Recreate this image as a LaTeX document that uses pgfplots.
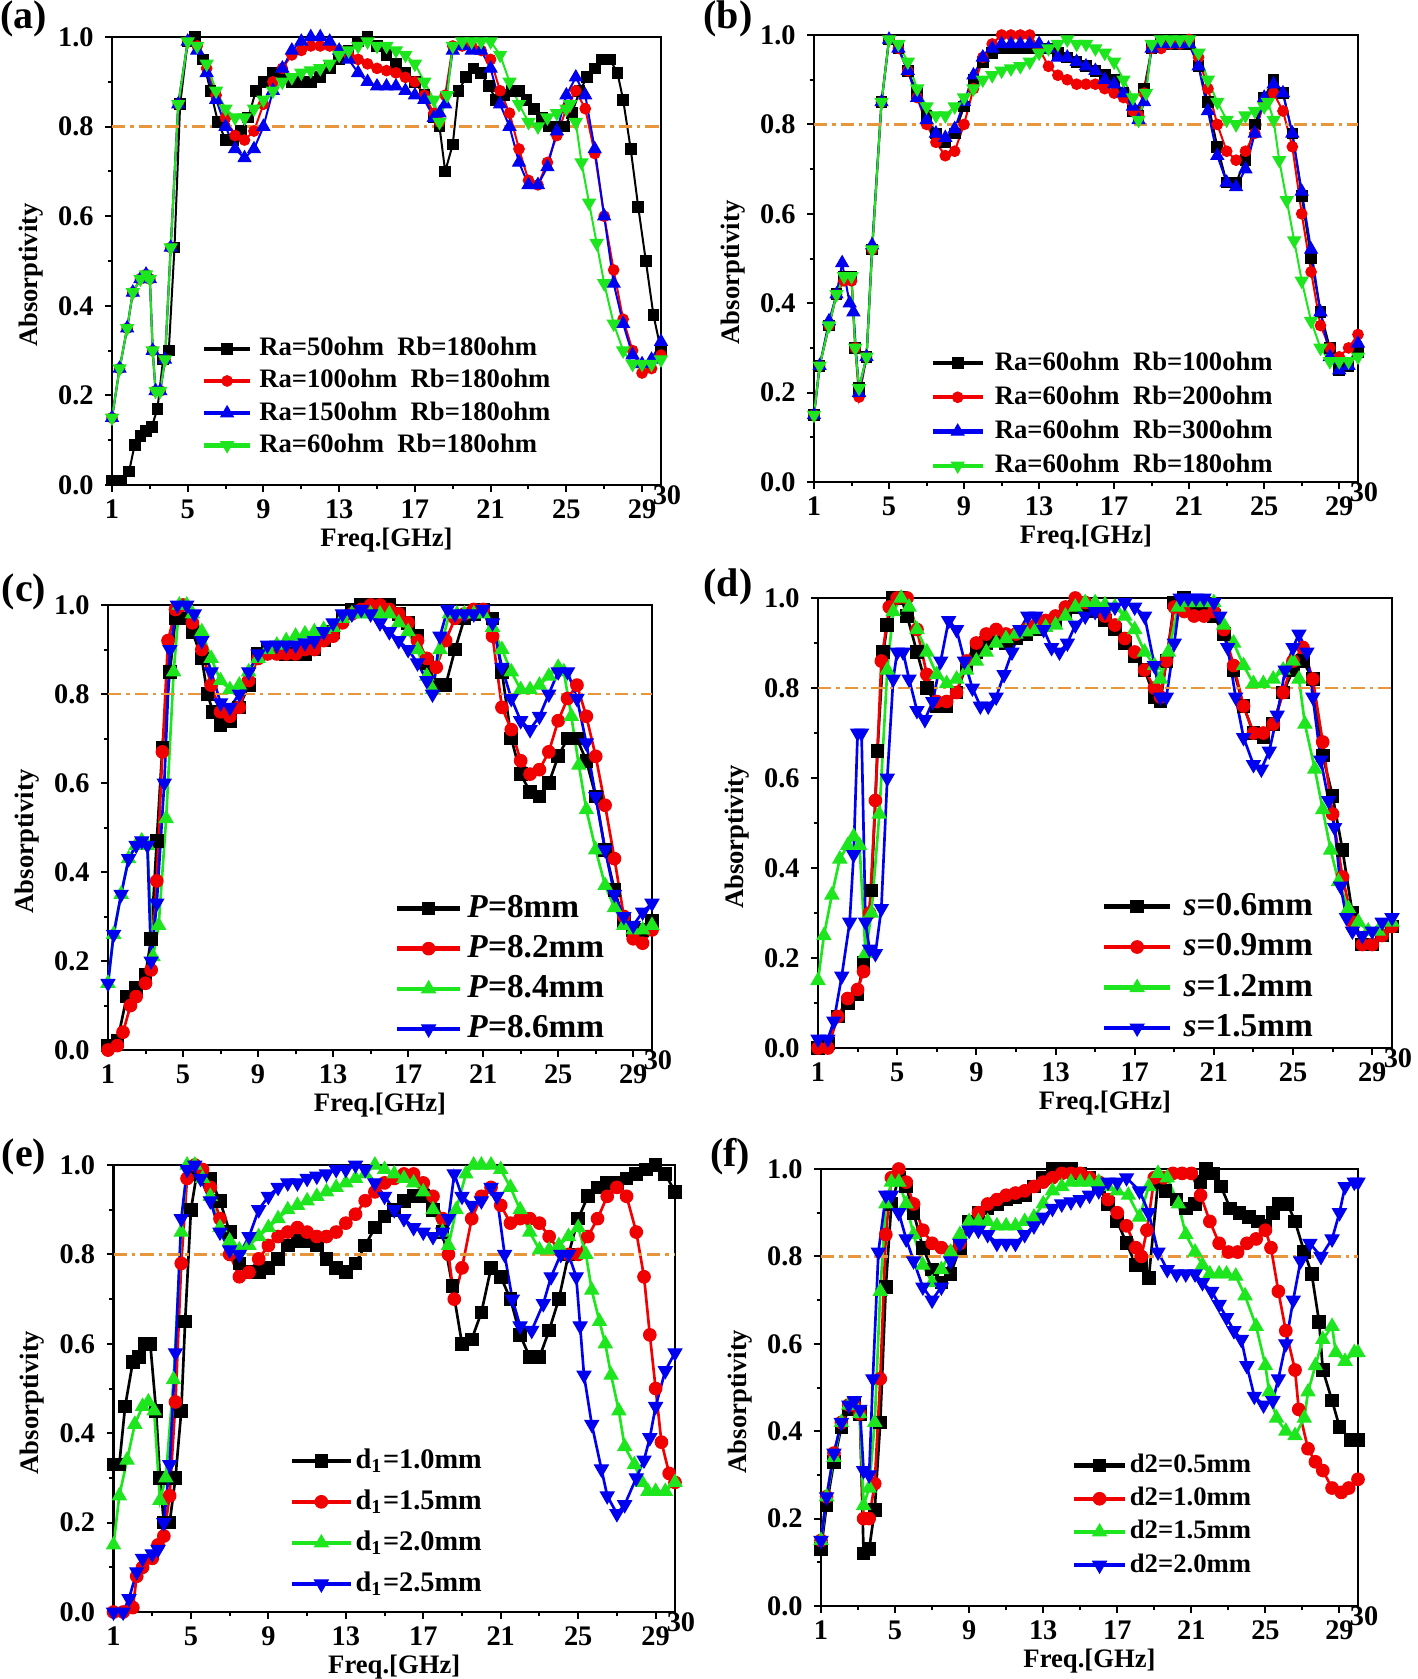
\documentclass[border=0pt]{standalone}
\usepackage{fontspec}
\setmainfont{Liberation Serif}
\usepackage{pgfplots}
\pgfplotsset{compat=1.18}
\definecolor{cgreen}{RGB}{30,230,30}
\definecolor{cblue}{RGB}{0,0,240}
\definecolor{cred}{RGB}{240,0,0}
\definecolor{corange}{RGB}{232,150,60}
\pgfplotsset{
  panel/.style={scale only axis, anchor=south west,
    xmin=1,xmax=30,ymin=0,ymax=1,
    axis line style={line width=0.8pt},
    xtick={1,5,...,29}, minor xtick={3,7,...,27},
    ytick={0,0.2,0.4,0.6,0.8,1}, minor ytick={0.1,0.3,0.5,0.7,0.9},
    tick align=outside, tick pos=left,
    major tick length=2pt, minor tick length=1.3pt,
    every tick/.style={line width=0.6pt,black},
    yticklabel style={/pgf/number format/.cd,fixed,fixed zerofill,precision=1},
    xticklabel style={yshift=1pt},
    /pgf/number format/assume math mode=true,
    tick label style={font=\fontsize{8.5}{10}\selectfont\bfseries},
    xlabel={Freq.[GHz]}, ylabel={Absorptivity},
    label style={font=\fontsize{8}{9}\selectfont\bfseries},
    xlabel style={at={([yshift=-16.6pt]axis description cs:0.5,0)},anchor=center},
    ylabel style={at={([xshift=-24.3pt,yshift=-4.2pt]axis description cs:0,0.5)},anchor=center},
    legend cell align=left,
    every axis plot/.append style={line width=0.6pt},
    after end axis/.code={\node[font=\fontsize{8.5}{10}\selectfont\bfseries] at ([xshift=1.8pt,yshift=-3pt]rel axis cs:1,0) {30};},
  },
  leg/.style n args={5}{legend style={draw=none, fill=none, inner sep=0pt,
     at={(axis description cs:#1,#2)}, anchor=north west,
     row sep=#4, column sep=#5,
     font=\fontsize{#3}{#3}\selectfont\bfseries,
     nodes={inner sep=0pt, text height=0.72*#3pt, text depth=0.2*#3pt}}},
  limg/.style={legend image code/.code={\draw[mark repeat=2,mark phase=2,##1,line width=1.3pt] plot coordinates {(0pt,0pt) (#1/2,0pt) (#1,0pt)};}},
  sq/.style={black, mark=square*, mark size=#1, mark options={solid,line width=0.3pt}},
  ci/.style={cred, mark=*, mark size=#1, mark options={solid,line width=0.3pt}},
  tu/.style 2 args={#1, mark=triangle*, mark size=#2, mark options={solid,line width=0.3pt}},
  td/.style 2 args={#1, mark=triangle*, mark size=#2, mark options={solid,rotate=180,line width=0.3pt}},
  ref/.style={corange, line width=0.8pt, dash pattern=on 4pt off 1.5pt on 1pt off 1.5pt, forget plot},
}
\begin{document}
\begin{tikzpicture}
\path[use as bounding box] (0,0) rectangle (425.4pt,-503.7pt);
\node[font=\fontsize{12}{14}\selectfont\bfseries] at (7.2pt,-5.7pt) {(a)};
\node[font=\fontsize{12}{14}\selectfont\bfseries] at (218.4pt,-5.7pt) {(b)};
\node[font=\fontsize{12}{14}\selectfont\bfseries] at (7.2pt,-177.6pt) {(c)};
\node[font=\fontsize{12}{14}\selectfont\bfseries] at (218.4pt,-176.1pt) {(d)};
\node[font=\fontsize{12}{14}\selectfont\bfseries] at (7.2pt,-347.1pt) {(e)};
\node[font=\fontsize{12}{14}\selectfont\bfseries] at (219pt,-347.1pt) {(f)};

% ---------------- (a)
\begin{axis}[panel, at={(33.6pt,-145.5pt)}, width=164.7pt, height=134.4pt,
  leg={0.162}{0.333}{8}{2.3pt}{2pt}, limg=14pt]
\addplot[sq=1.6pt] coordinates {(1,0.01)(1.5,0.01)(1.9,0.03)(2.2,0.09)(2.5,0.11)(2.8,0.12)(3.1,0.13)(3.4,0.17)(3.7,0.28)(4.0,0.3)(4.3,0.53)(4.6,0.85)(5.0,0.99)(5.4,1.0)(5.8,0.95)(6.2,0.88)(6.6,0.81)(7.0,0.77)(7.4,0.77)(7.8,0.79)(8.2,0.82)(8.6,0.88)(9.0,0.9)(9.5,0.92)(10,0.92)(10.5,0.9)(11,0.9)(11.5,0.9)(12,0.91)(12.5,0.93)(13,0.95)(13.5,0.97)(14,0.99)(14.5,1.0)(15,0.98)(15.5,0.96)(16,0.94)(16.5,0.92)(17,0.9)(17.5,0.87)(18,0.82)(18.3,0.8)(18.6,0.7)(19,0.76)(19.3,0.88)(19.7,0.91)(20.1,0.93)(20.5,0.92)(20.9,0.89)(21.3,0.86)(21.7,0.87)(22.1,0.88)(22.5,0.88)(22.9,0.86)(23.3,0.84)(23.7,0.82)(24.1,0.8)(24.5,0.8)(24.9,0.8)(25.3,0.83)(25.7,0.88)(26.1,0.91)(26.5,0.93)(26.9,0.95)(27.3,0.95)(27.7,0.92)(28.0,0.86)(28.4,0.75)(28.8,0.62)(29.2,0.5)(29.6,0.38)(30,0.3)};
\addlegendentry{Ra=50ohm\ \ Rb=180ohm}
\addplot[ci=1.6pt] coordinates {(1,0.15)(1.4,0.26)(1.8,0.35)(2.1,0.43)(2.5,0.46)(2.8,0.47)(3.0,0.46)(3.15,0.3)(3.3,0.21)(3.55,0.21)(3.8,0.28)(4.1,0.53)(4.5,0.85)(5.0,0.99)(5.5,0.98)(6,0.93)(6.5,0.87)(7,0.82)(7.5,0.78)(8,0.77)(8.5,0.79)(9,0.85)(9.5,0.9)(10,0.93)(10.5,0.96)(11,0.97)(11.5,0.98)(12,0.98)(12.5,0.98)(13,0.97)(13.5,0.96)(14,0.95)(14.5,0.94)(15,0.93)(15.5,0.925)(16,0.92)(16.5,0.91)(17,0.9)(17.5,0.87)(18,0.83)(18.3,0.81)(18.6,0.87)(19,0.98)(19.5,0.98)(20,0.98)(20.5,0.97)(21,0.95)(21.5,0.88)(22,0.83)(22.5,0.75)(23,0.68)(23.5,0.67)(24,0.72)(24.5,0.78)(25,0.84)(25.5,0.88)(26,0.84)(26.5,0.74)(27,0.6)(27.5,0.48)(28,0.37)(28.5,0.3)(29,0.25)(29.5,0.26)(30,0.29)};
\addlegendentry{Ra=100ohm\ \ Rb=180ohm}
\addplot[tu={cblue}{2.2pt}] coordinates {(1,0.15)(1.4,0.26)(1.8,0.35)(2.1,0.43)(2.5,0.46)(2.8,0.47)(3.0,0.46)(3.15,0.3)(3.3,0.21)(3.55,0.21)(3.8,0.28)(4.1,0.53)(4.5,0.85)(5.0,0.99)(5.5,0.97)(6,0.92)(6.5,0.86)(7,0.8)(7.5,0.75)(8,0.73)(8.5,0.75)(9,0.8)(9.5,0.88)(10,0.93)(10.5,0.97)(11,0.99)(11.5,1.0)(12,1.0)(12.5,0.99)(13,0.97)(13.5,0.95)(14,0.92)(14.5,0.9)(15,0.89)(15.5,0.89)(16,0.89)(16.5,0.88)(17,0.87)(17.5,0.86)(18,0.82)(18.3,0.83)(18.6,0.85)(19,0.97)(19.5,0.98)(20,0.97)(20.5,0.97)(21,0.93)(21.5,0.85)(22,0.8)(22.5,0.72)(23,0.67)(23.5,0.67)(24,0.71)(24.5,0.79)(25,0.87)(25.5,0.91)(26,0.87)(26.5,0.75)(27,0.6)(27.5,0.45)(28,0.36)(28.5,0.29)(29,0.27)(29.5,0.28)(30,0.32)};
\addlegendentry{Ra=150ohm\ \ Rb=180ohm}
\addplot[td={cgreen}{2.2pt}] coordinates {(1,0.15)(1.4,0.26)(1.8,0.35)(2.1,0.43)(2.5,0.46)(2.8,0.47)(3.0,0.46)(3.15,0.3)(3.3,0.21)(3.55,0.21)(3.8,0.28)(4.1,0.53)(4.5,0.85)(5.0,0.99)(5.5,0.98)(6,0.94)(6.5,0.88)(7,0.84)(7.5,0.82)(8,0.82)(8.5,0.84)(9,0.86)(9.5,0.88)(10,0.9)(10.5,0.91)(11,0.92)(11.5,0.925)(12,0.93)(12.5,0.94)(13,0.96)(13.5,0.97)(14,0.98)(14.5,0.99)(15,0.98)(15.5,0.98)(16,0.97)(16.5,0.96)(17,0.94)(17.5,0.9)(18,0.86)(18.3,0.81)(18.7,0.87)(19,0.98)(19.5,0.99)(20,0.99)(20.5,0.99)(21,0.99)(21.5,0.96)(22,0.9)(22.5,0.85)(23,0.81)(23.5,0.8)(24,0.82)(24.5,0.83)(25,0.84)(25.2,0.85)(25.5,0.81)(25.8,0.72)(26.2,0.63)(26.6,0.54)(27,0.45)(27.5,0.36)(28,0.3)(28.5,0.27)(29,0.27)(29.5,0.27)(30,0.28)};
\addlegendentry{Ra=60ohm\ \ Rb=180ohm}
\addplot[ref] coordinates {(1,0.8)(30,0.8)};
\end{axis}

% ---------------- (b)
\begin{axis}[panel, at={(244.2pt,-144.6pt)}, width=163.2pt, height=134.1pt,
  leg={0.213}{0.295}{8}{2.9pt}{3pt}, limg=15pt]
\addplot[sq=1.6pt] coordinates {(1,0.15)(1.3,0.26)(1.8,0.35)(2.2,0.42)(2.6,0.46)(3.0,0.46)(3.2,0.3)(3.4,0.21)(3.8,0.28)(4.1,0.52)(4.6,0.85)(5.0,0.99)(5.5,0.97)(6,0.92)(6.5,0.87)(7,0.82)(7.5,0.78)(8,0.76)(8.5,0.78)(9,0.84)(9.5,0.9)(10,0.94)(10.5,0.96)(11,0.97)(11.5,0.97)(12,0.97)(12.5,0.97)(13,0.97)(13.5,0.97)(14,0.96)(14.5,0.95)(15,0.94)(15.5,0.93)(16,0.92)(16.5,0.91)(17,0.9)(17.5,0.87)(18,0.83)(18.3,0.82)(18.6,0.88)(19,0.97)(19.5,0.98)(20,0.98)(20.5,0.98)(21,0.98)(21.5,0.93)(22,0.85)(22.5,0.75)(23,0.67)(23.5,0.67)(24,0.72)(24.5,0.8)(25,0.86)(25.5,0.9)(26,0.87)(26.5,0.78)(27,0.64)(27.5,0.5)(28,0.38)(28.5,0.3)(29,0.25)(29.5,0.26)(30,0.29)};
\addlegendentry{Ra=60ohm\ \ Rb=100ohm}
\addplot[ci=1.6pt] coordinates {(1,0.15)(1.3,0.26)(1.8,0.35)(2.2,0.42)(2.6,0.45)(3.0,0.45)(3.2,0.3)(3.4,0.19)(3.8,0.28)(4.1,0.52)(4.6,0.85)(5.0,0.99)(5.5,0.97)(6,0.92)(6.5,0.86)(7,0.8)(7.5,0.76)(8,0.73)(8.5,0.74)(9,0.8)(9.5,0.88)(10,0.95)(10.5,0.98)(11,1.0)(11.5,1.0)(12,1.0)(12.5,1.0)(13,0.97)(13.5,0.93)(14,0.91)(14.5,0.9)(15,0.89)(15.5,0.89)(16,0.89)(16.5,0.88)(17,0.87)(17.5,0.86)(18,0.83)(18.3,0.82)(18.6,0.87)(19,0.97)(19.5,0.97)(20,0.98)(20.5,0.98)(21,0.99)(21.5,0.95)(22,0.88)(22.5,0.8)(23,0.74)(23.5,0.72)(24,0.74)(24.5,0.78)(25,0.85)(25.5,0.87)(26,0.83)(26.5,0.75)(27,0.6)(27.5,0.47)(28,0.35)(28.5,0.3)(29,0.28)(29.5,0.3)(30,0.33)};
\addlegendentry{Ra=60ohm\ \ Rb=200ohm}
\addplot[tu={cblue}{2.2pt}] coordinates {(1,0.15)(1.3,0.26)(1.8,0.36)(2.2,0.42)(2.5,0.49)(2.9,0.4)(3.1,0.38)(3.4,0.2)(3.8,0.28)(4.1,0.53)(4.6,0.85)(5.0,0.99)(5.5,0.97)(6,0.92)(6.5,0.86)(7,0.81)(7.5,0.78)(8,0.77)(8.5,0.79)(9,0.85)(9.5,0.91)(10,0.95)(10.5,0.97)(11,0.98)(11.5,0.98)(12,0.98)(12.5,0.98)(13,0.98)(13.5,0.97)(14,0.95)(14.5,0.95)(15,0.94)(15.5,0.93)(16,0.92)(16.5,0.9)(17,0.89)(17.5,0.87)(18,0.84)(18.3,0.81)(18.6,0.85)(19,0.97)(19.5,0.98)(20,0.98)(20.5,0.98)(21,0.98)(21.5,0.93)(22,0.83)(22.5,0.73)(23,0.67)(23.5,0.66)(24,0.7)(24.5,0.78)(25,0.86)(25.5,0.89)(26,0.87)(26.5,0.78)(27,0.65)(27.5,0.52)(28,0.38)(28.5,0.28)(29,0.25)(29.5,0.26)(30,0.31)};
\addlegendentry{Ra=60ohm\ \ Rb=300ohm}
\addplot[td={cgreen}{2.2pt}] coordinates {(1,0.15)(1.3,0.26)(1.8,0.35)(2.2,0.42)(2.6,0.46)(3.0,0.46)(3.2,0.3)(3.4,0.21)(3.8,0.28)(4.1,0.52)(4.6,0.85)(5.0,0.99)(5.5,0.98)(6,0.94)(6.5,0.88)(7,0.84)(7.5,0.82)(8,0.82)(8.5,0.84)(9,0.86)(9.5,0.88)(10,0.9)(10.5,0.91)(11,0.92)(11.5,0.925)(12,0.93)(12.5,0.94)(13,0.96)(13.5,0.97)(14,0.98)(14.5,0.99)(15,0.98)(15.5,0.98)(16,0.97)(16.5,0.96)(17,0.94)(17.5,0.9)(18,0.86)(18.3,0.81)(18.7,0.87)(19,0.98)(19.5,0.99)(20,0.99)(20.5,0.99)(21,0.99)(21.5,0.96)(22,0.9)(22.5,0.85)(23,0.81)(23.5,0.8)(24,0.82)(24.5,0.83)(25,0.84)(25.2,0.85)(25.5,0.81)(25.8,0.72)(26.2,0.63)(26.6,0.54)(27,0.45)(27.5,0.36)(28,0.3)(28.5,0.27)(29,0.27)(29.5,0.27)(30,0.28)};
\addlegendentry{Ra=60ohm\ \ Rb=180ohm}
\addplot[ref] coordinates {(1,0.8)(30,0.8)};
\end{axis}

% ---------------- (c)
\begin{axis}[panel, at={(32.4pt,-315pt)}, width=163.2pt, height=133.5pt,
  leg={0.526}{0.354}{10}{2.85pt}{1.5pt}, limg=19pt, every axis plot/.append style={line width=0.8pt}]
\addplot[sq=1.9pt] coordinates {(1,0.01)(1.5,0.02)(2,0.12)(2.5,0.14)(3,0.17)(3.3,0.25)(3.6,0.47)(3.9,0.68)(4.3,0.85)(4.6,0.97)(5,0.97)(5.5,0.94)(6,0.88)(6.3,0.8)(6.6,0.76)(7,0.73)(7.5,0.74)(8,0.77)(8.5,0.82)(9,0.89)(9.5,0.9)(10,0.9)(10.5,0.89)(11,0.89)(11.5,0.89)(12,0.9)(12.5,0.92)(13,0.94)(13.5,0.97)(14,0.99)(14.5,1.0)(15,1.0)(15.5,1.0)(16,1.0)(16.5,0.98)(17,0.96)(17.5,0.93)(18,0.87)(18.5,0.82)(19,0.82)(19.5,0.9)(20,0.97)(20.5,0.98)(21,0.99)(21.5,0.97)(22,0.85)(22.5,0.7)(23,0.62)(23.5,0.58)(24,0.57)(24.5,0.6)(25,0.66)(25.5,0.7)(26,0.7)(26.5,0.65)(27,0.57)(27.5,0.45)(28,0.36)(28.5,0.29)(29,0.27)(29.5,0.27)(30,0.29)};
\addlegendentry{\textit{P}=8mm}
\addplot[ci=1.9pt] coordinates {(1,0.0)(1.5,0.01)(1.8,0.04)(2.2,0.1)(2.5,0.12)(3,0.15)(3.3,0.18)(3.6,0.38)(3.9,0.67)(4.2,0.92)(4.6,0.99)(5,1.0)(5.5,0.96)(6,0.9)(6.5,0.82)(7,0.76)(7.5,0.75)(8,0.77)(8.5,0.83)(9,0.88)(9.5,0.89)(10,0.89)(10.5,0.89)(11,0.89)(11.5,0.9)(12,0.9)(12.5,0.92)(13,0.93)(13.5,0.96)(14,0.98)(14.5,0.99)(15,1.0)(15.5,1.0)(16,0.99)(16.5,0.98)(17,0.96)(17.5,0.92)(18,0.88)(18.5,0.86)(19,0.92)(19.5,0.97)(20,0.98)(20.5,0.99)(21,0.99)(21.5,0.93)(22,0.77)(22.5,0.72)(23,0.65)(23.5,0.62)(24,0.63)(24.5,0.67)(25,0.74)(25.5,0.79)(26,0.82)(26.5,0.75)(27,0.66)(27.5,0.55)(28,0.43)(28.5,0.3)(29,0.25)(29.5,0.24)(30,0.27)};
\addlegendentry{\textit{P}=8.2mm}
\addplot[tu={cgreen}{2.4pt}] coordinates {(1,0.15)(1.3,0.26)(1.7,0.35)(2.1,0.43)(2.5,0.46)(2.8,0.47)(3.1,0.46)(3.4,0.21)(3.7,0.28)(4.1,0.52)(4.5,0.85)(4.8,1.0)(5.2,1.0)(5.5,0.98)(6,0.94)(6.5,0.88)(7,0.83)(7.5,0.81)(8,0.82)(8.5,0.85)(9,0.88)(9.5,0.9)(10,0.91)(10.5,0.92)(11,0.93)(11.5,0.935)(12,0.94)(12.5,0.945)(13,0.95)(13.5,0.97)(14,0.98)(14.5,0.98)(15,0.98)(15.5,0.98)(16,0.98)(16.5,0.96)(17,0.94)(17.5,0.9)(18,0.84)(18.3,0.81)(18.7,0.9)(19.2,0.98)(19.6,0.98)(20,0.98)(20.5,0.98)(21,0.98)(21.5,0.95)(22,0.9)(22.5,0.85)(23,0.81)(23.5,0.81)(24,0.82)(24.5,0.84)(25,0.86)(25.3,0.85)(25.7,0.75)(26.1,0.64)(26.5,0.54)(27,0.45)(27.5,0.37)(28,0.32)(28.5,0.28)(29,0.27)(29.5,0.27)(30,0.28)};
\addlegendentry{\textit{P}=8.4mm}
\addplot[td={cblue}{2.4pt}] coordinates {(1,0.15)(1.3,0.26)(1.7,0.35)(2.1,0.43)(2.5,0.46)(2.8,0.47)(3.1,0.46)(3.3,0.2)(3.6,0.33)(4.0,0.6)(4.3,0.9)(4.7,1.0)(5.2,1.0)(5.6,0.98)(6,0.92)(6.5,0.85)(7,0.78)(7.5,0.77)(8,0.8)(8.5,0.85)(9,0.89)(9.5,0.91)(10,0.91)(10.5,0.91)(11,0.91)(11.5,0.915)(12,0.92)(12.5,0.94)(13,0.96)(13.5,0.98)(14,0.98)(14.5,0.99)(15,0.98)(15.5,0.96)(16,0.94)(16.5,0.92)(17,0.9)(17.5,0.87)(18,0.83)(18.3,0.8)(18.7,0.93)(19.1,0.99)(19.5,0.98)(20,0.98)(20.5,0.98)(21,0.99)(21.5,0.96)(22,0.86)(22.5,0.79)(23,0.74)(23.5,0.72)(24,0.75)(24.5,0.8)(25,0.85)(25.5,0.85)(26,0.79)(26.5,0.69)(27,0.57)(27.5,0.45)(28,0.35)(28.5,0.3)(29,0.28)(29.5,0.31)(30,0.33)};
\addlegendentry{\textit{P}=8.6mm}
\addplot[ref] coordinates {(1,0.8)(30,0.8)};
\end{axis}

% ---------------- (d)
\begin{axis}[panel, at={(245.4pt,-314.4pt)}, width=172.2pt, height=135pt,
  leg={0.493}{0.350}{10}{2.95pt}{3.3pt}, limg=20pt, every axis plot/.append style={line width=0.8pt}]
\addplot[sq=1.9pt] coordinates {(1,0.0)(1.5,0.01)(2,0.07)(2.5,0.1)(3,0.12)(3.3,0.19)(3.7,0.35)(4.0,0.66)(4.3,0.88)(4.5,0.94)(4.8,1.0)(5.2,1.0)(5.5,0.96)(6,0.88)(6.5,0.8)(7,0.76)(7.5,0.76)(8,0.79)(8.5,0.85)(9,0.88)(9.5,0.9)(10,0.91)(10.5,0.9)(11,0.91)(11.5,0.92)(12,0.93)(12.5,0.94)(13,0.95)(13.5,0.97)(14,0.98)(14.5,0.98)(15,0.97)(15.5,0.95)(16,0.93)(16.5,0.9)(17,0.87)(17.5,0.84)(18,0.78)(18.3,0.77)(18.6,0.86)(19,0.99)(19.5,1.0)(20,0.98)(20.5,0.97)(21,0.96)(21.5,0.92)(22,0.84)(22.5,0.76)(23,0.7)(23.5,0.69)(24,0.72)(24.5,0.79)(25,0.84)(25.5,0.86)(26,0.82)(26.5,0.65)(27,0.56)(27.5,0.44)(28,0.3)(28.5,0.23)(29,0.23)(29.5,0.25)(30,0.27)};
\addlegendentry{\textit{s}=0.6mm}
\addplot[ci=1.9pt] coordinates {(1,0.0)(1.5,0.0)(2,0.07)(2.5,0.11)(3,0.13)(3.3,0.17)(3.6,0.3)(3.9,0.55)(4.2,0.86)(4.6,0.98)(5,1.0)(5.5,1.0)(6,0.93)(6.5,0.83)(7,0.77)(7.5,0.77)(8,0.79)(8.5,0.86)(9,0.9)(9.5,0.92)(10,0.93)(10.5,0.92)(11,0.92)(11.5,0.93)(12,0.94)(12.5,0.95)(13,0.96)(13.5,0.98)(14,1.0)(14.5,0.99)(15,0.98)(15.5,0.96)(16,0.94)(16.5,0.91)(17,0.88)(17.5,0.84)(18,0.8)(18.3,0.78)(18.6,0.86)(19,0.98)(19.5,0.97)(20,0.96)(20.5,0.96)(21,0.97)(21.5,0.93)(22,0.85)(22.5,0.76)(23,0.7)(23.5,0.7)(24,0.72)(24.5,0.79)(25,0.86)(25.5,0.89)(26,0.82)(26.5,0.68)(27,0.52)(27.5,0.38)(28,0.28)(28.5,0.23)(29,0.23)(29.5,0.25)(30,0.27)};
\addlegendentry{\textit{s}=0.9mm}
\addplot[tu={cgreen}{2.4pt}] coordinates {(1,0.15)(1.3,0.25)(1.7,0.34)(2.1,0.42)(2.5,0.45)(2.8,0.47)(3.1,0.45)(3.4,0.21)(3.7,0.3)(4.1,0.52)(4.5,0.84)(4.8,0.97)(5.2,1.0)(5.6,0.98)(6,0.93)(6.5,0.88)(7,0.83)(7.5,0.81)(8,0.82)(8.5,0.84)(9,0.86)(9.5,0.88)(10,0.9)(10.5,0.91)(11,0.92)(11.5,0.925)(12,0.93)(12.5,0.935)(13,0.94)(13.5,0.96)(14,0.98)(14.5,0.99)(15,0.99)(15.5,0.985)(16,0.98)(16.5,0.96)(17,0.93)(17.5,0.88)(18,0.85)(18.3,0.82)(18.7,0.88)(19.2,0.98)(19.6,0.99)(20,0.99)(20.5,0.99)(21,0.99)(21.5,0.94)(22,0.9)(22.5,0.85)(23,0.81)(23.5,0.81)(24,0.82)(24.5,0.84)(25,0.86)(25.3,0.82)(25.6,0.72)(26.1,0.62)(26.5,0.53)(26.9,0.44)(27.3,0.37)(27.8,0.31)(28.3,0.28)(28.8,0.26)(29.3,0.26)(30,0.28)};
\addlegendentry{\textit{s}=1.2mm}
\addplot[td={cblue}{2.4pt}] coordinates {(1,0.02)(1.5,0.02)(1.8,0.06)(2.2,0.16)(2.6,0.28)(2.8,0.43)(3.0,0.7)(3.2,0.7)(3.4,0.28)(3.6,0.22)(3.9,0.21)(4.2,0.31)(4.5,0.6)(4.8,0.82)(5.0,0.88)(5.3,0.88)(5.6,0.82)(6.0,0.75)(6.4,0.73)(6.8,0.77)(7.2,0.86)(7.6,0.95)(8.0,0.93)(8.4,0.86)(8.8,0.8)(9.2,0.76)(9.6,0.76)(10,0.78)(10.4,0.83)(10.8,0.88)(11.2,0.93)(11.6,0.96)(12,0.96)(12.4,0.93)(12.8,0.89)(13.2,0.88)(13.6,0.9)(14,0.94)(14.5,0.96)(15,0.97)(15.5,0.97)(16,0.98)(16.5,0.99)(17,0.98)(17.5,0.96)(18,0.85)(18.3,0.78)(18.6,0.78)(19,0.9)(19.3,1.0)(19.7,1.0)(20.1,1.0)(20.5,1.0)(21,0.99)(21.3,0.96)(21.7,0.89)(22.1,0.78)(22.5,0.69)(23,0.63)(23.4,0.62)(23.8,0.66)(24.2,0.74)(24.6,0.84)(25,0.89)(25.3,0.92)(25.7,0.88)(26,0.78)(26.4,0.64)(26.8,0.55)(27.1,0.49)(27.4,0.36)(27.7,0.29)(28,0.26)(28.5,0.25)(29,0.26)(29.5,0.28)(30,0.29)};
\addlegendentry{\textit{s}=1.5mm}
\addplot[ref] coordinates {(1,0.8)(30,0.8)};
\end{axis}

% ---------------- (e)
\begin{axis}[panel, at={(34.05pt,-483.6pt)}, width=168.45pt, height=134.1pt,
  leg={0.3126}{0.369}{8.5}{4.5pt}{0.8pt}, limg=17.7pt, every axis plot/.append style={line width=0.8pt}]
\addplot[sq=1.9pt] coordinates {(1,0.33)(1.3,0.33)(1.6,0.46)(2.0,0.56)(2.3,0.57)(2.6,0.6)(2.9,0.6)(3.2,0.45)(3.4,0.3)(3.6,0.2)(3.9,0.2)(4.2,0.3)(4.5,0.45)(4.7,0.65)(5,0.9)(5.3,0.98)(5.6,0.98)(6,0.97)(6.5,0.92)(7,0.85)(7.5,0.78)(8,0.76)(8.5,0.76)(9,0.77)(9.5,0.79)(10,0.82)(10.5,0.83)(11,0.83)(11.5,0.82)(12,0.79)(12.5,0.77)(13,0.76)(13.5,0.78)(14,0.82)(14.5,0.86)(15,0.885)(15.5,0.9)(16,0.92)(16.5,0.93)(17,0.93)(17.5,0.9)(18,0.85)(18.5,0.73)(19,0.6)(19.5,0.61)(20,0.67)(20.5,0.77)(21,0.75)(21.5,0.7)(22,0.62)(22.5,0.57)(23,0.57)(23.5,0.63)(24,0.7)(24.5,0.8)(25,0.88)(25.5,0.93)(26,0.95)(26.5,0.96)(27,0.96)(27.5,0.97)(28,0.98)(28.5,0.99)(29,1.0)(29.5,0.98)(30,0.94)};
\addlegendentry{d\textsubscript{1}=1.0mm}
\addplot[ci=1.9pt] coordinates {(1,0.0)(1.5,0.0)(2,0.01)(2.2,0.08)(2.5,0.1)(3,0.12)(3.3,0.15)(3.6,0.17)(3.9,0.26)(4.2,0.47)(4.5,0.78)(4.8,0.97)(5.2,1.0)(5.6,0.99)(6,0.95)(6.5,0.88)(7,0.8)(7.5,0.75)(8,0.76)(8.5,0.79)(9,0.82)(9.5,0.84)(10,0.85)(10.5,0.86)(11,0.85)(11.5,0.84)(12,0.84)(12.5,0.85)(13,0.87)(13.5,0.89)(14,0.92)(14.5,0.94)(15,0.96)(15.5,0.97)(16,0.98)(16.5,0.98)(17,0.96)(17.5,0.93)(18,0.88)(18.3,0.8)(18.6,0.7)(19,0.77)(19.5,0.88)(20,0.93)(20.5,0.95)(21,0.91)(21.5,0.87)(22,0.88)(22.5,0.88)(23,0.87)(23.5,0.84)(24,0.81)(24.5,0.8)(25,0.8)(25.5,0.84)(26,0.88)(26.5,0.93)(27,0.95)(27.5,0.93)(28,0.85)(28.4,0.75)(28.7,0.62)(29,0.5)(29.3,0.38)(29.7,0.31)(30,0.29)};
\addlegendentry{d\textsubscript{1}=1.5mm}
\addplot[tu={cgreen}{2.4pt}] coordinates {(1,0.15)(1.3,0.26)(1.7,0.34)(2.1,0.42)(2.5,0.46)(2.8,0.47)(3.1,0.45)(3.4,0.25)(3.7,0.3)(4.1,0.52)(4.5,0.85)(4.8,1.0)(5.2,1.0)(5.6,0.97)(6,0.93)(6.5,0.86)(7,0.83)(7.5,0.81)(8,0.82)(8.5,0.84)(9,0.86)(9.5,0.88)(10,0.9)(10.5,0.91)(11,0.92)(11.5,0.93)(12,0.94)(12.5,0.95)(13,0.96)(13.5,0.97)(14,0.98)(14.5,1.0)(15,0.99)(15.5,0.98)(16,0.97)(16.5,0.96)(17,0.94)(17.5,0.9)(18,0.85)(18.3,0.82)(18.7,0.9)(19.2,0.98)(19.6,1.0)(20,1.0)(20.5,1.0)(21,0.99)(21.5,0.95)(22,0.9)(22.5,0.85)(23,0.81)(23.5,0.81)(24,0.82)(24.5,0.84)(25,0.86)(25.4,0.8)(25.7,0.72)(26.1,0.65)(26.4,0.6)(26.7,0.53)(27.1,0.45)(27.4,0.37)(27.9,0.33)(28.3,0.29)(28.6,0.27)(29,0.27)(29.5,0.27)(30,0.29)};
\addlegendentry{d\textsubscript{1}=2.0mm}
\addplot[td={cblue}{2.4pt}] coordinates {(1,0.0)(1.5,0.0)(1.8,0.03)(2.2,0.09)(2.5,0.12)(3,0.13)(3.3,0.14)(3.6,0.2)(3.9,0.33)(4.2,0.58)(4.5,0.88)(4.8,0.99)(5.2,1.0)(5.5,0.97)(6,0.92)(6.5,0.85)(7,0.81)(7.5,0.8)(8,0.84)(8.5,0.9)(9,0.93)(9.5,0.95)(10,0.96)(10.5,0.96)(11,0.97)(11.5,0.975)(12,0.98)(12.5,0.99)(13,0.99)(13.5,1.0)(14,0.99)(14.5,0.96)(15,0.93)(15.5,0.9)(16,0.88)(16.5,0.86)(17,0.85)(17.5,0.84)(18,0.85)(18.3,0.88)(18.6,0.98)(19,0.93)(19.5,0.91)(20,0.92)(20.5,0.95)(20.8,0.93)(21.2,0.8)(21.6,0.7)(22,0.64)(22.6,0.63)(23.2,0.69)(23.6,0.75)(24.1,0.8)(24.5,0.8)(24.9,0.75)(25.1,0.64)(25.3,0.53)(25.7,0.42)(26.2,0.32)(26.5,0.26)(27,0.22)(27.4,0.24)(28,0.3)(28.4,0.34)(28.7,0.39)(29,0.46)(29.5,0.54)(30,0.58)};
\addlegendentry{d\textsubscript{1}=2.5mm}
\addplot[ref] coordinates {(1,0.8)(30,0.8)};
\end{axis}

% ---------------- (f)
\begin{axis}[panel, at={(246.3pt,-481.8pt)}, width=161.1pt, height=131.1pt,
  leg={0.466}{0.351}{8}{2.6pt}{0.8pt}, limg=15.3pt, every axis plot/.append style={line width=0.8pt}]
\addplot[sq=1.9pt] coordinates {(1,0.13)(1.3,0.23)(1.7,0.33)(2.1,0.41)(2.5,0.45)(2.8,0.46)(3.1,0.44)(3.3,0.12)(3.6,0.13)(3.9,0.22)(4.2,0.42)(4.5,0.73)(4.8,0.92)(5.2,0.98)(5.6,0.96)(6,0.9)(6.5,0.82)(7,0.77)(7.5,0.74)(8,0.76)(8.5,0.82)(9,0.88)(9.5,0.9)(10,0.91)(10.5,0.92)(11,0.93)(11.5,0.935)(12,0.94)(12.5,0.96)(13,0.98)(13.5,1.0)(14,1.0)(14.5,1.0)(15,0.99)(15.5,0.98)(16,0.96)(16.5,0.92)(17,0.88)(17.5,0.83)(18,0.78)(18.3,0.78)(18.7,0.75)(19.2,0.97)(19.6,0.95)(20.2,0.93)(20.7,0.91)(21.2,0.92)(21.5,0.97)(21.8,1.0)(22.2,0.99)(22.6,0.96)(23.1,0.91)(23.6,0.9)(24.1,0.89)(24.6,0.88)(25,0.87)(25.4,0.9)(25.7,0.92)(26.2,0.92)(26.6,0.88)(27.1,0.81)(27.5,0.76)(27.9,0.65)(28.1,0.54)(28.6,0.47)(29,0.41)(29.6,0.38)(30,0.38)};
\addlegendentry{d2=0.5mm}
\addplot[ci=1.9pt] coordinates {(1,0.15)(1.3,0.25)(1.7,0.35)(2.1,0.42)(2.5,0.46)(2.8,0.46)(3.1,0.44)(3.3,0.2)(3.6,0.2)(3.9,0.28)(4.2,0.52)(4.5,0.85)(4.8,0.98)(5.2,1.0)(5.6,0.97)(6,0.92)(6.5,0.86)(7,0.83)(7.5,0.82)(8,0.81)(8.5,0.83)(9,0.87)(9.5,0.9)(10,0.92)(10.5,0.93)(11,0.94)(11.5,0.945)(12,0.95)(12.5,0.96)(13,0.97)(13.5,0.98)(14,0.99)(14.5,0.99)(15,0.99)(15.5,0.98)(16,0.97)(16.5,0.93)(17,0.9)(17.5,0.87)(18,0.82)(18.3,0.8)(18.6,0.86)(19,0.98)(19.5,0.98)(20,0.99)(20.5,0.99)(21,0.99)(21.5,0.94)(22,0.88)(22.5,0.83)(23,0.81)(23.5,0.81)(24,0.83)(24.5,0.84)(25,0.86)(25.3,0.82)(25.7,0.72)(26.1,0.63)(26.6,0.54)(26.8,0.45)(27.3,0.36)(27.7,0.33)(28.1,0.31)(28.6,0.27)(29.1,0.26)(29.5,0.27)(30,0.29)};
\addlegendentry{d2=1.0mm}
\addplot[tu={cgreen}{2.4pt}] coordinates {(1,0.15)(1.3,0.25)(1.7,0.34)(2.1,0.42)(2.5,0.46)(2.8,0.46)(3.1,0.44)(3.3,0.23)(3.6,0.27)(3.9,0.42)(4.2,0.72)(4.5,0.92)(4.8,0.97)(5.2,0.97)(5.6,0.92)(6,0.85)(6.5,0.78)(7,0.74)(7.5,0.77)(8,0.81)(8.5,0.85)(9,0.88)(9.5,0.88)(10,0.88)(10.5,0.87)(11,0.87)(11.5,0.87)(12,0.88)(12.5,0.89)(13,0.92)(13.5,0.95)(14,0.96)(14.5,0.97)(15,0.97)(15.5,0.97)(16,0.97)(16.5,0.96)(17,0.95)(17.6,0.94)(18.2,0.89)(18.7,0.96)(19.2,0.99)(19.7,0.98)(20.3,0.92)(20.7,0.85)(21.2,0.81)(21.6,0.78)(22,0.76)(22.5,0.76)(22.9,0.76)(23.4,0.755)(23.9,0.71)(24.5,0.64)(25,0.55)(25.2,0.49)(25.6,0.43)(26.1,0.4)(26.6,0.39)(27.1,0.43)(27.3,0.49)(27.7,0.55)(28.1,0.61)(28.6,0.64)(28.8,0.58)(29.3,0.56)(29.8,0.58)(30,0.58)};
\addlegendentry{d2=1.5mm}
\addplot[td={cblue}{2.4pt}] coordinates {(1,0.15)(1.3,0.25)(1.7,0.35)(2.1,0.42)(2.5,0.46)(2.8,0.47)(3.1,0.45)(3.3,0.31)(3.6,0.3)(3.8,0.52)(4.1,0.81)(4.5,0.94)(4.8,0.94)(5.2,0.9)(5.6,0.84)(6,0.79)(6.5,0.73)(7,0.7)(7.5,0.73)(8,0.79)(8.5,0.83)(9,0.86)(9.5,0.86)(10,0.85)(10.5,0.83)(11,0.83)(11.5,0.83)(12,0.85)(12.5,0.87)(13,0.89)(13.5,0.91)(14,0.92)(14.5,0.925)(15,0.93)(15.5,0.94)(16,0.95)(16.5,0.97)(17,0.97)(17.5,0.98)(18.2,0.95)(18.7,0.9)(19.2,0.81)(19.7,0.77)(20.2,0.76)(20.7,0.76)(21.2,0.76)(21.6,0.74)(22.1,0.72)(22.5,0.69)(22.9,0.66)(23.3,0.63)(23.7,0.61)(24,0.55)(24.4,0.48)(24.9,0.46)(25.4,0.47)(25.7,0.52)(26.1,0.6)(26.5,0.7)(26.9,0.79)(27.4,0.83)(28,0.8)(28.6,0.84)(29,0.9)(29.3,0.96)(29.8,0.97)(30,0.97)};
\addlegendentry{d2=2.0mm}
\addplot[ref] coordinates {(1,0.8)(30,0.8)};
\end{axis}
\end{tikzpicture}
\end{document}
